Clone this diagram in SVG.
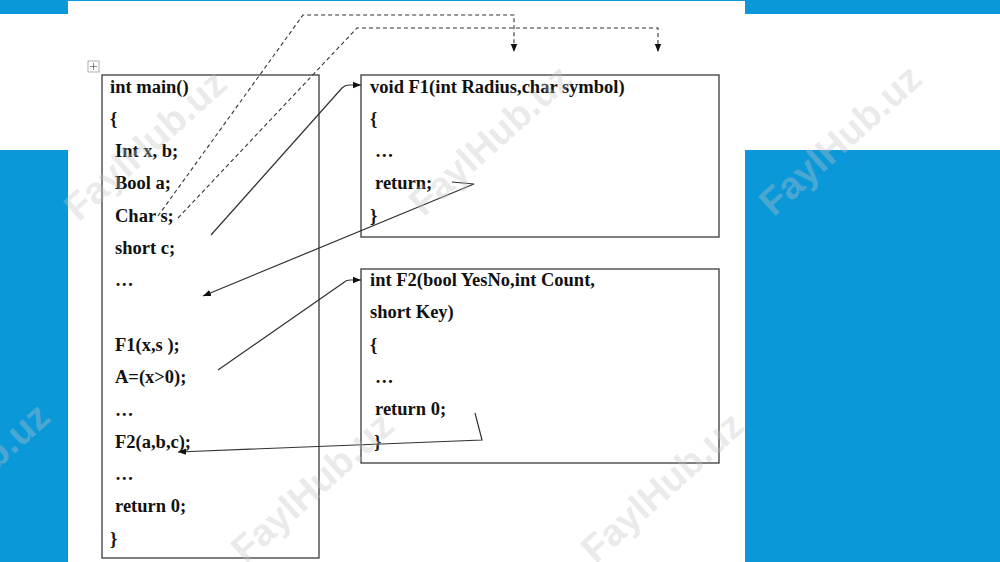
<svg xmlns="http://www.w3.org/2000/svg" width="1000" height="562" viewBox="0 0 1000 562">
<defs>
<style>
.bg{fill:#0b98d8}
.box{fill:none;stroke:#3a3a3a;stroke-width:1.3}
.code{font-family:"Liberation Serif","Times New Roman",serif;font-weight:bold;font-size:18.5px;fill:#111}
.wm{font-family:"Liberation Sans",Arial,sans-serif;font-weight:bold;font-size:38px;fill:#c4c4c4;fill-opacity:0.35;text-anchor:middle}
.dash{fill:none;stroke:#333;stroke-width:1.1;stroke-dasharray:4 3}
.solid{fill:none;stroke:#333;stroke-width:1.2}
</style>
<marker id="arr" viewBox="0 0 10 10" refX="10" refY="5" markerWidth="8" markerHeight="8" markerUnits="userSpaceOnUse" orient="auto">
<path d="M0,1 L10,5 L0,9 Z" fill="#111"/>
</marker>
</defs>
<rect width="1000" height="562" fill="#ffffff"/>
<rect class="bg" x="0" y="0" width="1000" height="14"/>
<rect class="bg" x="0" y="150" width="68" height="412"/>
<rect class="bg" x="745" y="150" width="255" height="412"/>
<rect x="68" y="1" width="677" height="561" fill="#ffffff"/>

<g id="move-handle">
<rect x="88" y="61" width="11" height="11" fill="#fff" stroke="#999" stroke-width="0.8"/>
<path d="M93.5,63 V70 M90,66.5 H97" stroke="#666" stroke-width="0.8"/>
</g>

<g id="main">
<rect class="box" x="102" y="75" width="217" height="483"/>
<text class="code" x="110" y="92.5">int main()</text>
<text class="code" x="110" y="124.8">{</text>
<text class="code" x="115" y="157.1">Int x, b;</text>
<text class="code" x="115" y="189.4">Bool a;</text>
<text class="code" x="115" y="221.7">Char s;</text>
<text class="code" x="115" y="254">short c;</text>
<text class="code" x="115" y="286.3">…</text>
<text class="code" x="115" y="350.9">F1(x,s );</text>
<text class="code" x="115" y="383.2">A=(x&gt;0);</text>
<text class="code" x="115" y="415.5">…</text>
<text class="code" x="115" y="447.8">F2(a,b,c);</text>
<text class="code" x="115" y="480.1">…</text>
<text class="code" x="115" y="512.4">return 0;</text>
<text class="code" x="110" y="544.7">}</text>
</g>

<g id="F1">
<rect class="box" x="361" y="75" width="358" height="162"/>
<text class="code" x="370" y="92.5">void F1(int Radius,char symbol)</text>
<text class="code" x="370" y="124.8">{</text>
<text class="code" x="375" y="157.1">…</text>
<text class="code" x="375" y="189.4">return;</text>
<text class="code" x="370" y="221.7">}</text>
</g>

<g id="F2">
<rect class="box" x="361" y="269" width="358" height="194"/>
<text class="code" x="370" y="286">int F2(bool YesNo,int Count,</text>
<text class="code" x="370" y="318.3">short Key)</text>
<text class="code" x="370" y="350.6">{</text>
<text class="code" x="375" y="382.9">…</text>
<text class="code" x="375" y="415.2">return 0;</text>
<text class="code" x="374" y="447.5">}</text>
</g>

<g id="connectors">
<path class="dash" d="M158,216 L303,15 L514,15 L514,52" marker-end="url(#arr)"/>
<path class="dash" d="M178,218 L357,28 L658,28 L658,52" marker-end="url(#arr)"/>
<path class="solid" d="M211,235 L342,88 Q345,85 349,85 L361,85" marker-end="url(#arr)"/>
<path class="solid" d="M452,182 L474,184 L203,296" marker-end="url(#arr)"/>
<path class="solid" d="M218,370 L343,283 Q346,280 350,280 L361,280" marker-end="url(#arr)"/>
<path class="solid" d="M475,413 L482,440 L178,452" marker-end="url(#arr)"/>
</g>

<g id="watermarks">
<text class="wm" transform="translate(145,145) rotate(-42)" dy="13">FaylHub.uz</text>
<text class="wm" transform="translate(490,140) rotate(-42)" dy="13">FaylHub.uz</text>
<text class="wm" transform="translate(840,140) rotate(-42)" dy="13">FaylHub.uz</text>
<text class="wm" transform="translate(-32,478) rotate(-42)" dy="13">FaylHub.uz</text>
<text class="wm" transform="translate(312,487) rotate(-42)" dy="13">FaylHub.uz</text>
<text class="wm" transform="translate(662,487) rotate(-42)" dy="13">FaylHub.uz</text>
</g>
</svg>
